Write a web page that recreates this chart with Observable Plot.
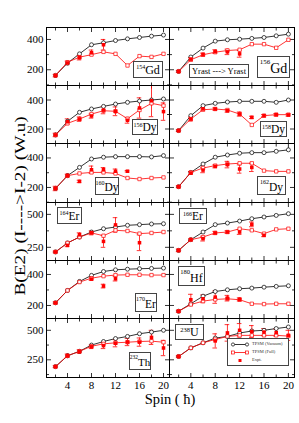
<!DOCTYPE html>
<html><head><meta charset="utf-8">
<script src="https://cdn.jsdelivr.net/npm/d3@7"></script>
<script src="https://cdn.jsdelivr.net/npm/@observablehq/plot@0.6"></script>
<style>
body{margin:0;background:#fff;}
#fig{position:relative;width:299px;height:423px;overflow:hidden;font-family:"Liberation Serif","DejaVu Serif",serif;color:#000;}
.pan{position:absolute;}
.pan svg{overflow:visible;background:transparent;}
.lab{position:absolute;border:1px solid #444;background:#fff;box-sizing:border-box;display:flex;align-items:flex-end;justify-content:center;line-height:1;white-space:nowrap;padding-bottom:1px;}
.lab sup{align-self:flex-start;line-height:1;}
</style></head><body><div id="fig"></div>
<script>
// ---------- data ----------
const spins = [2,4,6,8,10,12,14,16,18,20];
const xMajor = [4,8,12,16,20];
const xMinor = [2,6,10,14,18];

const gd154Vac  = [163,244,305,365,378,393,404,413,422,429];
const gd154Full = [163,250,283,300,318,305,228,290,285,305];
const gd154ExpSpin = [2,4,6,8,10];
const gd154Exp  = [161,245,280,312,365];
const gd154Err  = [8,12,15,18,35];

const gd156Vac  = [189,284,343,389,398,402,407,413,424,435];
const gd156Full = [189,266,299,316,327,332,369,369,345,398];
const gd156ExpSpin = [2,4,6,8,10,12];
const gd156Exp  = [189,270,300,320,318,305];
const gd156Err  = [6,10,10,12,18,22];

const dy156Vac  = [159,253,315,338,356,372,384,393,400,407];
const dy156Full = [159,239,269,303,326,322,271,331,377,361];
const dy156ExpSpin = [2,4,6,8,10,12,14,16,18,20];
const dy156Exp  = [159,250,268,290,330,322,260,345,395,320];
const dy156Err  = [12,20,15,15,25,30,20,70,110,60];

const dy158Vac  = [189,292,361,377,386,391,391,391,384,400];
const dy158Full = [189,269,333,338,331,303,228,292,299,299];
const dy158ExpSpin = [2,4,6,8,10,12,14,16,18,20];
const dy158Exp  = [189,269,338,338,326,303,280,292,299,297];
const dy158Err  = [6,14,8,8,10,14,8,8,8,8];

const dy160Vac  = [193,280,336,393,405,409,409,409,407,416];
const dy160Full = [193,280,295,302,302,295,264,257,264,268];
const dy160ExpSpin = [2,4,6,8,10,12,14];
const dy160Exp  = [193,280,241,320,320,310,310];
const dy160Err  = [15,10,8,25,15,15,5];

const dy162Vac  = [205,302,359,405,420,432,436,436,445,455];
const dy162Full = [205,302,332,348,359,364,364,314,309,309];
const dy162ExpSpin = [2,4,6,8,10,12,14];
const dy162Exp  = [205,298,318,343,355,325,336];
const dy162Err  = [6,10,18,10,22,28,28];

const er164Vac  = [215,283,328,366,391,404,417,422,427,429];
const er164Full = [215,283,328,359,338,379,374,354,359,366];
const er164ExpSpin = [2,4,6,8,10,12,16];
const er164Exp  = [215,265,345,360,295,420,285];
const er164Err  = [6,10,15,15,45,55,60];

const er166Vac  = [227,308,366,422,434,449,467,480,492,505];
const er166Full = [227,308,328,359,366,391,379,354,386,391];
const er166ExpSpin = [2,4,6,8,10,12,14,16];
const er166Exp  = [227,308,316,359,366,366,424,341];
const er166Err  = [10,6,18,12,10,18,18,10];

const er170Vac  = [217,297,355,394,419,430,434,437,439,441];
const er170Full = [217,297,351,376,389,396,398,398,396,396];
const er170ExpSpin = [2,8,10,12];
const er170Exp  = [217,370,325,372];
const er170Err  = [6,8,12,14];

const hf180Vac  = [163,211,260,290,301,308,312,318,323,327];
const hf180Full = [163,206,228,239,243,237,211,209,211,211];
const hf180ExpSpin = [2,4,6,8,10,12];
const hf180Exp  = [163,237,243,254,247,239];
const hf180Err  = [6,35,25,40,18,10];

const th232Vac  = [192,284,322,375,405,430,448,471,485,500];
const th232Full = [192,284,322,365,385,394,399,405,408,399];
const th232ExpSpin = [2,4,6,8,10,12,14,16,18,20];
const th232Exp  = [192,284,320,360,370,390,400,400,440,350];
const th232Err  = [8,15,15,15,25,30,30,35,60,65];

const u238Vac  = [278,351,394,434,448,477,494,500,515,528];
const u238Full = [278,351,394,422,448,457,457,457,457,451];
const u238ExpSpin = [2,8,10,12,14,16,18,20];
const u238Exp  = [278,410,478,500,490,485,480,457];
const u238Err  = [6,60,70,57,50,30,30,43];

// y scales per row
const rowDomain = [[96,479],[100,500],[98,498],[150,590],[116,490],[100,600]];
const rowMajor  = [[200,400],[200,400],[200,400],[250,500],[200,400],[250,500]];
const rowMinor  = [[100,300],[300],[100,300],[375],[300],[125,375]];

// ---------- layout ----------
const colX = [46,169], colW = [123,125];
const rowY = [27,85,143,202,260,318,377];
const RED = "#ff0000";
const fig = document.getElementById("fig");

const panels = [
  {col:0,row:0,vac:gd154Vac,full:gd154Full,es:gd154ExpSpin,ev:gd154Exp,ee:gd154Err},
  {col:1,row:0,vac:gd156Vac,full:gd156Full,es:gd156ExpSpin,ev:gd156Exp,ee:gd156Err},
  {col:0,row:1,vac:dy156Vac,full:dy156Full,es:dy156ExpSpin,ev:dy156Exp,ee:dy156Err},
  {col:1,row:1,vac:dy158Vac,full:dy158Full,es:dy158ExpSpin,ev:dy158Exp,ee:dy158Err},
  {col:0,row:2,vac:dy160Vac,full:dy160Full,es:dy160ExpSpin,ev:dy160Exp,ee:dy160Err},
  {col:1,row:2,vac:dy162Vac,full:dy162Full,es:dy162ExpSpin,ev:dy162Exp,ee:dy162Err},
  {col:0,row:3,vac:er164Vac,full:er164Full,es:er164ExpSpin,ev:er164Exp,ee:er164Err},
  {col:1,row:3,vac:er166Vac,full:er166Full,es:er166ExpSpin,ev:er166Exp,ee:er166Err},
  {col:0,row:4,vac:er170Vac,full:er170Full,es:er170ExpSpin,ev:er170Exp,ee:er170Err},
  {col:1,row:4,vac:hf180Vac,full:hf180Full,es:hf180ExpSpin,ev:hf180Exp,ee:hf180Err},
  {col:0,row:5,vac:th232Vac,full:th232Full,es:th232ExpSpin,ev:th232Exp,ee:th232Err},
  {col:1,row:5,vac:u238Vac,full:u238Full,es:u238ExpSpin,ev:u238Exp,ee:u238Err}
];

function tickAxes(row){
  const o = {fill:"none", label:null, strokeWidth:0.8};
  return [
    Plot.axisX(xMajor,{...o,anchor:"bottom",tickSize:-4}),
    Plot.axisX(xMinor,{...o,anchor:"bottom",tickSize:-2.5}),
    Plot.axisX(xMajor,{...o,anchor:"top",tickSize:-4}),
    Plot.axisX(xMinor,{...o,anchor:"top",tickSize:-2.5}),
    Plot.axisY(rowMajor[row],{...o,anchor:"left",tickSize:-5}),
    Plot.axisY(rowMinor[row],{...o,anchor:"left",tickSize:-3}),
    Plot.axisY(rowMajor[row],{...o,anchor:"right",tickSize:-5}),
    Plot.axisY(rowMinor[row],{...o,anchor:"right",tickSize:-3})
  ];
}

for (const p of panels){
  const vacData = spins.map((s,i)=>({s, v:p.vac[i]}));
  const fullData = spins.map((s,i)=>({s, v:p.full[i]}));
  const expData = p.es.map((s,i)=>({s, v:p.ev[i], e:p.ee[i]}));
  const W = colW[p.col], H = rowY[p.row+1]-rowY[p.row];
  const marks = [
    ...tickAxes(p.row),
    Plot.line(vacData,{x:"s",y:"v",stroke:"#000",strokeWidth:0.8}),
    Plot.line(fullData,{x:"s",y:"v",stroke:RED,strokeWidth:0.8}),
    Plot.ruleX(expData,{x:"s",y1:d=>d.v-d.e,y2:d=>d.v+d.e,stroke:RED,strokeWidth:0.8,clip:true}),
    Plot.ruleY(expData,{y:d=>d.v+d.e,x1:d=>d.s-0.38,x2:d=>d.s+0.38,stroke:RED,strokeWidth:0.8,clip:true}),
    Plot.ruleY(expData,{y:d=>d.v-d.e,x1:d=>d.s-0.38,x2:d=>d.s+0.38,stroke:RED,strokeWidth:0.8,clip:true}),
    Plot.dot(vacData,{x:"s",y:"v",r:2,stroke:"#000",fill:"#fff",strokeWidth:0.7}),
    Plot.dot(fullData,{x:"s",y:"v",symbol:"square",r:1.9,stroke:RED,fill:"#fff",strokeWidth:0.7}),
    Plot.dot(expData,{x:"s",y:"v",symbol:"square",r:2,fill:RED,stroke:"none"}),
    Plot.frame({stroke:"#000",strokeWidth:1})
  ];
  if (p.col===0) marks.push(Plot.axisY(rowMajor[p.row],{anchor:"left",tickSize:0,tickPadding:3,fontSize:11,label:null}));
  if (p.row===5) marks.push(Plot.axisX(xMajor,{anchor:"bottom",tickSize:0,tickPadding:4,fontSize:11,label:null}));
  const chart = Plot.plot({
    width:W, height:H, margin:0,
    x:{domain:[0.5,21], label:null},
    y:{domain:rowDomain[p.row], label:null},
    style:{fontFamily:"Liberation Serif, serif", overflow:"visible", background:"transparent", color:"#000"},
    marks
  });
  const d = document.createElement("div");
  d.className = "pan";
  d.style.left = colX[p.col]+"px"; d.style.top = rowY[p.row]+"px";
  d.style.width = W+"px"; d.style.height = H+"px";
  d.appendChild(chart);
  fig.appendChild(d);
}

// nucleus labels
const labels = [
  {m:"154",e:"Gd",x:133,y:61,w:30,h:17,fs:12,ss:6},
  {m:"156",e:"Gd",x:257,y:56,w:33,h:22,fs:14,ss:7},
  {m:"156",e:"Dy",x:132,y:119,w:26,h:16,fs:11.5,ss:6},
  {m:"158",e:"Dy",x:260,y:121,w:27,h:16,fs:11.5,ss:6},
  {m:"160",e:"Dy",x:95,y:177,w:24,h:18,fs:11.5,ss:6},
  {m:"162",e:"Dy",x:257,y:176,w:29,h:19,fs:11.5,ss:6},
  {m:"164",e:"Er",x:57,y:207,w:25,h:17,fs:11.5,ss:6},
  {m:"166",e:"Er",x:179,y:208,w:28,h:16,fs:11.5,ss:6},
  {m:"170",e:"Er",x:135,y:293,w:22,h:19,fs:11.5,ss:6},
  {m:"180",e:"Hf",x:178,y:266,w:27,h:20,fs:12,ss:6.5},
  {m:"232",e:"Th",x:129,y:352,w:22,h:18,fs:11,ss:5.5},
  {m:"238",e:"U",x:175,y:324,w:29,h:16,fs:12,ss:6.5}
];
for (const l of labels){
  const b = document.createElement("div");
  b.className = "lab";
  Object.assign(b.style,{left:l.x+"px",top:l.y+"px",width:l.w+"px",height:l.h+"px",fontSize:l.fs+"px"});
  b.innerHTML = `<sup style="font-size:${l.ss}px;margin-top:2px">${l.m}</sup><span>${l.e}</span>`;
  fig.appendChild(b);
}
// Yrast box
const yb = document.createElement("div");
yb.className = "lab";
Object.assign(yb.style,{left:"189px",top:"64px",width:"60px",height:"14px",fontSize:"8.5px",alignItems:"center",paddingBottom:"0"});
yb.textContent = "Yrast ---> Yrast";
fig.appendChild(yb);

// legend
const lg = document.createElement("div");
Object.assign(lg.style,{position:"absolute",left:"227px",top:"338px",width:"62px",height:"28px",border:"1px solid #444",background:"#fff",boxSizing:"border-box",fontSize:"4.5px",lineHeight:"1"});
const items = [
  {t:"TPSM (Vacuum)", c:"#000", sym:"circle", line:true},
  {t:"TPSM (Full)", c:RED, sym:"square", line:true},
  {t:"Expt.", c:RED, sym:"fill", line:false}
];
items.forEach((it,i)=>{
  const r = document.createElement("div");
  Object.assign(r.style,{position:"absolute",left:"3px",top:(3+i*8)+"px",display:"flex",alignItems:"center",height:"5px"});
  let s = `<svg width="18" height="5" style="overflow:visible">`;
  if (it.line) s += `<line x1="2" y1="2.5" x2="16" y2="2.5" stroke="${it.c}" stroke-width="0.8"/>`;
  if (it.sym==="circle") s += `<circle cx="2" cy="2.5" r="1.6" fill="#fff" stroke="${it.c}" stroke-width="0.7"/><circle cx="16" cy="2.5" r="1.6" fill="#fff" stroke="${it.c}" stroke-width="0.7"/>`;
  if (it.sym==="square") s += `<rect x="0.5" y="1" width="3" height="3" fill="#fff" stroke="${it.c}" stroke-width="0.7"/><rect x="14.5" y="1" width="3" height="3" fill="#fff" stroke="${it.c}" stroke-width="0.7"/>`;
  if (it.sym==="fill") s += `<rect x="7.5" y="1" width="3" height="3" fill="${it.c}"/>`;
  s += `</svg>`;
  r.innerHTML = s + `<span style="margin-left:3px;color:#333">${it.t}</span>`;
  lg.appendChild(r);
});
fig.appendChild(lg);

// axis titles
const yl = document.createElement("div");
Object.assign(yl.style,{position:"absolute",left:"21px",top:"206px",transform:"translate(-50%,-50%) rotate(-90deg) scaleX(1.38)",fontSize:"14px",whiteSpace:"nowrap",lineHeight:"1"});
yl.textContent = "B(E2) (I---->I-2) (W.u)";
fig.appendChild(yl);
const xl = document.createElement("div");
Object.assign(xl.style,{position:"absolute",left:"170px",top:"392px",transform:"translateX(-50%)",fontSize:"14.5px",whiteSpace:"nowrap",lineHeight:"1"});
xl.textContent = "Spin ( ħ)";
fig.appendChild(xl);
</script></body></html>
